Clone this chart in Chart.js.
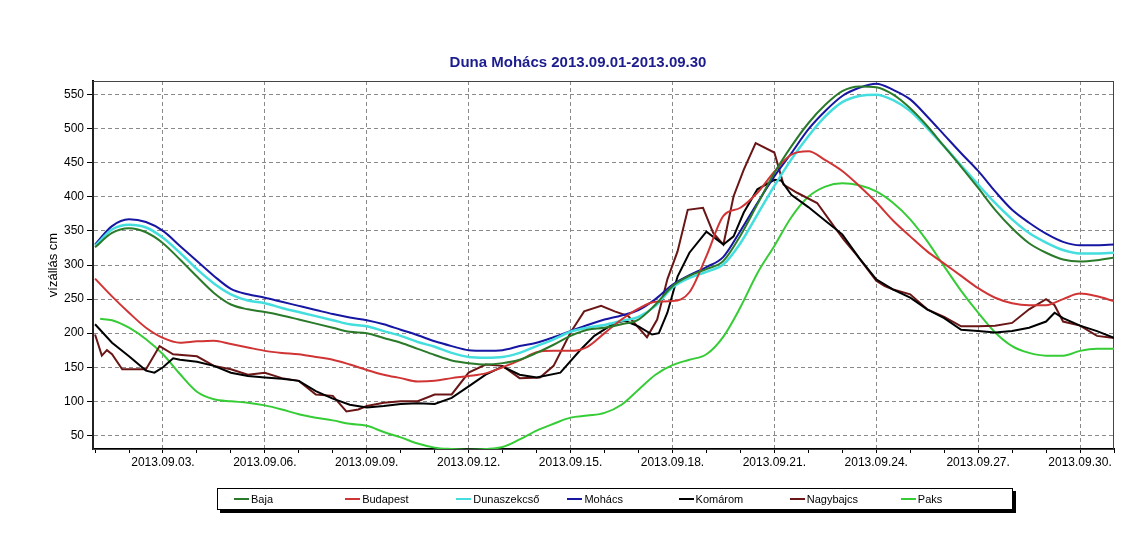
<!DOCTYPE html>
<html lang="hu">
<head>
<meta charset="utf-8">
<title>Duna Mohács 2013.09.01-2013.09.30</title>
<script src="https://cdn.jsdelivr.net/npm/chart.js@4.4.0/dist/chart.umd.min.js"></script>
<style>
  body { margin: 0; background: #fff; }
  #wrap { position: relative; width: 1135px; height: 555px; }
  #legend {
    position: absolute; left: 217px; top: 488px; width: 796px; height: 22px;
    box-sizing: border-box; padding-left: 16px;
    border: 1px solid #000; box-shadow: 3px 3px 0 #000; background: #fff;
    display: flex; align-items: center;
    font: 11px "Liberation Sans", Arial, sans-serif; color: #000;
  }
  .item { width: 114px; display: flex; align-items: center; white-space: nowrap; }
  .swatch { display: inline-block; width: 15px; height: 2px; margin-right: 2px; }
</style>
</head>
<body>
<div id="wrap">
  <canvas id="chart" width="1135" height="555"></canvas>
  <div id="legend"></div>
</div>
<script>
// napok 2013.09.01 00:00-tól (0 = 09.01.)
const days = [0, 0.5, 1, 1.5, 2, 2.5, 3, 3.5, 4, 4.5, 5, 5.5, 6, 6.5, 7, 7.5, 8, 8.5, 9, 9.5,
  10, 10.5, 11, 11.5, 12, 12.5, 13, 13.5, 14, 14.5, 15, 15.5, 16, 16.5, 17, 17.5, 18, 18.5, 19, 19.5,
  20, 20.5, 21, 21.5, 22, 22.5, 23, 23.5, 24, 24.5, 25, 25.5, 26, 26.5, 27, 27.5, 28, 28.5, 29, 29.5, 30];

const baja = [326, 347, 354, 348, 332, 308, 283, 259, 242, 235, 231, 226, 220, 214, 208, 202, 200, 193, 186, 177,
  168, 160, 156, 154, 156, 161, 171, 183, 196, 205, 208, 213, 220, 242, 269, 284, 294, 306, 343, 389,
  435, 474, 508, 535, 555, 562, 561, 550, 530, 504, 474, 444, 413, 381, 354, 332, 318, 308, 305, 307, 311];

const budapest = [280, 254, 230, 208, 193, 186, 188, 189, 184, 179, 174, 171, 169, 165, 161, 154, 146, 139, 134, 129,
  130, 134, 137, 141, 150, 160, 172, 174, 174, 180, 200, 220, 236, 246, 247, 260, 313, 372, 384, 406,
  437, 462, 467, 454, 438, 416, 392, 365, 342, 320, 302, 284, 266, 252, 244, 241, 241, 250, 258, 254, 247];

const dunaszekcso = [328, 352, 359, 355, 340, 318, 294, 273, 257, 248, 244, 237, 231, 225, 219, 213, 210, 203, 196, 187,
  180, 171, 165, 164, 165, 171, 181, 191, 202, 208, 212, 218, 224, 240, 267, 281, 290, 301, 332, 374,
  416, 455, 489, 518, 539, 548, 550, 542, 526, 501, 474, 446, 418, 391, 367, 347, 333, 322, 317, 317, 318];

const mohacs = [330, 357, 367, 363, 350, 328, 306, 284, 265, 257, 252, 246, 240, 234, 228, 223, 219, 213, 205, 197,
  188, 181, 175, 174, 175, 181, 186, 194, 203, 212, 220, 226, 234, 250, 271, 285, 297, 312, 350, 391,
  430, 464, 499, 526, 548, 560, 566, 557, 543, 518, 491, 464, 438, 408, 381, 362, 346, 334, 329, 329, 330];

// Paks mérése kicsit később indul
const paksDays = [0.15, 0.5, 1, 1.5, 2, 2.5, 3, 3.5, 4, 4.5, 5, 5.5, 6, 6.5, 7, 7.5, 8, 8.5, 9, 9.5,
  10, 10.5, 11, 11.5, 12, 12.5, 13, 13.5, 14, 14.5, 15, 15.5, 16, 16.5, 17, 17.5, 18, 18.5, 19, 19.5,
  20, 20.5, 21, 21.5, 22, 22.5, 23, 23.5, 24, 24.5, 25, 25.5, 26, 26.5, 27, 27.5, 28, 28.5, 29, 29.5, 30];
const paks = [221, 219, 208, 191, 169, 140, 114, 103, 100, 98, 94, 88, 81, 76, 72, 67, 64, 55, 47, 38,
  32, 30, 29, 30, 33, 44, 57, 67, 76, 79, 83, 95, 117, 139, 153, 161, 169, 195, 238, 288,
  328, 370, 400, 415, 420, 417, 408, 391, 367, 335, 298, 262, 230, 201, 181, 171, 167, 167, 174, 177, 177];

const komaromDays = [0, 0.5, 1, 1.5, 1.75, 2, 2.3, 2.5, 3, 3.5, 4, 4.5, 5, 5.5, 6, 6.5, 7, 7.5, 8, 8.5, 9, 9.5,
  10, 10.5, 11, 11.5, 12, 12.5, 13, 13.7, 14.3, 14.7, 15.3, 15.6, 16, 16.4, 16.6, 16.85, 17.15, 17.5, 18, 18.5,
  18.8, 19.1, 19.5, 20, 20.2, 20.5, 21, 21.5, 22, 22.5, 23, 23.5, 24, 24.5, 25, 25.5, 26, 26.5, 27, 27.5,
  28, 28.25, 28.5, 29, 29.5, 30];
const komarom = [213, 186, 166, 145, 142, 150, 163, 161, 158, 152, 142, 137, 135, 133, 130, 115, 104, 95, 91, 93, 96, 97,
  96, 105, 122, 139, 151, 139, 135, 142, 176, 196, 215, 218, 210, 198, 200, 230, 283, 318, 349, 330,
  342, 377, 411, 425, 424, 403, 385, 365, 345, 310, 279, 264, 252, 235, 222, 205, 203, 201, 203, 208,
  217, 230, 222, 211, 203, 193];

const nagybajcsDays = [0, 0.2, 0.35, 0.5, 0.8, 1.5, 1.9, 2.3, 3, 3.5, 4, 4.5, 5, 5.5, 6, 6.5, 7, 7.4, 7.75, 8, 8.5, 9,
  9.5, 10, 10.5, 11, 11.5, 12, 12.5, 13.1, 13.5, 14, 14.4, 14.9, 15.3, 15.7, 16.25, 16.55, 16.85, 17.15, 17.45, 17.9,
  18.2, 18.5, 18.8, 19.1, 19.45, 20, 20.27, 20.67, 21.26, 21.75, 22.05, 22.45, 23, 23.25, 23.5, 24, 24.5, 25, 25.5, 26,
  26.5, 27, 27.5, 28, 28.25, 28.5, 29, 29.5, 30];
const nagybajcs = [198, 167, 175, 169, 147, 147, 181, 169, 166, 152, 147, 139, 142, 134, 130, 110, 108, 85, 88, 93, 98, 100,
  100, 110, 110, 142, 154, 152, 134, 135, 152, 201, 232, 240, 232, 225, 194, 220, 279, 320, 381, 384,
  347, 330, 401, 440, 479, 465, 418, 406, 391, 357, 337, 313, 277, 269, 264, 257, 235, 224, 210, 210,
  211, 215, 235, 250, 241, 217, 211, 196, 193];

// tengelyfeliratok
const labelDays = [2, 5, 8, 11, 14, 17, 20, 23, 26, 29];
const labelTexts = ['2013.09.03.', '2013.09.06.', '2013.09.09.', '2013.09.12.', '2013.09.15.',
  '2013.09.18.', '2013.09.21.', '2013.09.24.', '2013.09.27.', '2013.09.30.'];
const dayMarks = [0, 1, 2, 3, 4, 5, 6, 7, 8, 9, 10, 11, 12, 13, 14, 15, 16, 17, 18, 19, 20,
  21, 22, 23, 24, 25, 26, 27, 28, 29, 30];
const levelTicks = [50, 100, 150, 200, 250, 300, 350, 400, 450, 500, 550];

const FONT = '"Liberation Sans", Arial, sans-serif';

const toPoints = (xs, ys) => xs.map((x, i) => ({ x: x, y: ys[i] }));

// felső és jobb keret a rajzterület körül
const frame = {
    id: 'frame',
    beforeDatasetsDraw(chart) {
        const { ctx, chartArea: a } = chart;
        ctx.save();
        ctx.strokeStyle = '#444';
        ctx.lineWidth = 1;
        ctx.strokeRect(a.left, a.top + 0.5, a.right - a.left - 0.5, a.bottom - a.top);
        ctx.restore();
    }
};

const chart = new Chart(document.getElementById('chart'), {
    type: 'line',
    data: {
        datasets: [
            { label: 'Baja', data: toPoints(days, baja), borderColor: '#2a7a2a', cubicInterpolationMode: 'monotone' },
            { label: 'Budapest', data: toPoints(days, budapest), borderColor: '#d03434', cubicInterpolationMode: 'monotone' },
            { label: 'Dunaszekcső', data: toPoints(days, dunaszekcso), borderColor: '#44dede', borderWidth: 2.5, cubicInterpolationMode: 'monotone' },
            { label: 'Mohács', data: toPoints(days, mohacs), borderColor: '#1616a2', cubicInterpolationMode: 'monotone' },
            { label: 'Komárom', data: toPoints(komaromDays, komarom), borderColor: '#000000' },
            { label: 'Nagybajcs', data: toPoints(nagybajcsDays, nagybajcs), borderColor: '#6a1616' },
            { label: 'Paks', data: toPoints(paksDays, paks), borderColor: '#36cc36', cubicInterpolationMode: 'monotone' }
        ]
    },
    options: {
        responsive: false,
        animation: false,
        layout: { padding: { left: 42, right: 21, top: 0, bottom: 76 } },
        elements: {
            point: { radius: 0 },
            line: { borderWidth: 2 }
        },
        plugins: {
            legend: { display: false },
            tooltip: { enabled: false },
            title: {
                display: true,
                text: 'Duna Mohács 2013.09.01-2013.09.30',
                color: '#1c1c8e',
                font: { family: FONT, size: 15, weight: 'bold' },
                padding: { top: 54, bottom: 9 }
            }
        },
        scales: {
            x: {
                type: 'linear',
                min: -0.06,
                max: 30,
                afterBuildTicks: scale => { scale.ticks = dayMarks.map(v => ({ value: v })); },
                afterFit: scale => { scale.height = 30; },
                ticks: {
                    autoSkip: false,
                    maxRotation: 0,
                    padding: 2,
                    color: '#000',
                    font: { family: FONT, size: 12 },
                    callback: value => {
                        const i = labelDays.indexOf(value);
                        return i >= 0 ? labelTexts[i] : '';
                    }
                },
                grid: {
                    color: ctx => ctx.tick && labelDays.includes(ctx.tick.value) ? '#8a8a8a' : 'rgba(0,0,0,0)',
                    tickColor: '#000',
                    tickLength: 4
                },
                border: { color: '#000', width: 2, dash: [4, 3] }
            },
            y: {
                min: 30,
                max: 570,
                afterBuildTicks: scale => { scale.ticks = levelTicks.map(v => ({ value: v })); },
                afterFit: scale => { scale.width = 51; },
                ticks: {
                    padding: 3,
                    color: '#000',
                    font: { family: FONT, size: 12 }
                },
                grid: {
                    color: '#8a8a8a',
                    tickColor: '#000',
                    tickLength: 6
                },
                border: { color: '#000', width: 2, dash: [4, 3] },
                title: {
                    display: true,
                    text: 'vízállás cm',
                    color: '#000',
                    font: { family: FONT, size: 13 }
                }
            }
        }
    },
    plugins: [frame]
});

// jelmagyarázat a diagram adataiból
const legendBox = document.getElementById('legend');
chart.data.datasets.forEach(ds => {
    const item = document.createElement('div');
    item.className = 'item';
    const swatch = document.createElement('span');
    swatch.className = 'swatch';
    swatch.style.background = ds.borderColor;
    item.appendChild(swatch);
    item.appendChild(document.createTextNode(ds.label));
    legendBox.appendChild(item);
});
</script>
</body>
</html>
